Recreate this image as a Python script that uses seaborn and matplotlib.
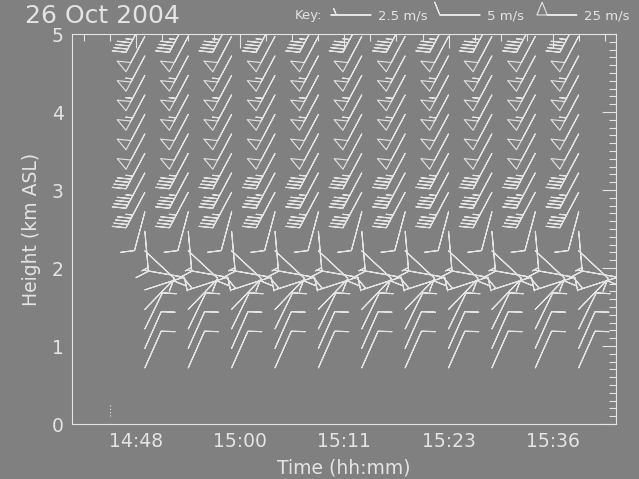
import numpy as np
import matplotlib
matplotlib.use("Agg")
import matplotlib.pyplot as plt
import seaborn as sns

# ==============================
# DATA
# ==============================
date_label = "26 Oct 2004"
times = [49, 54, 59, 64, 69, 74, 79, 84, 89, 94, 99]          # minutes after 14:00
heights = [0.72, 0.97, 1.22, 1.47, 1.72, 1.97, 2.22, 2.47, 2.72, 2.97,
           3.22, 3.47, 3.72, 3.97, 4.22, 4.47, 4.72, 4.97, 5.22]   # km ASL
speed_profile = [5, 5, 5, 5, 5, 5, 5, 7.5, 5, 22.5,
                 22.5, 22.5, 25, 25, 27.5, 27.5, 27.5, 25, 22.5]    # m/s
dir_profile = [24, 24, 26, 44, 72, 100, 133, 175, 195, 208,
               208, 208, 208, 208, 208, 208, 208, 208, 208]         # deg, wind from
tick_pos = [48, 60, 72, 84, 96]
tick_labels = ["14:48", "15:00", "15:11", "15:23", "15:36"]
key_speeds = [2.5, 5, 25]
key_labels = ["2.5 m/s", "5 m/s", "25 m/s"]
surface_time = 45
surface_top = 0.27

BG = "#808080"
FG = "#e4e4e4"
barb_style = dict(length=7.6, pivot="tip", barbcolor=FG, flagcolor="none",
                  linewidth=0.8, fill_empty=False,
                  barb_increments=dict(half=2.5, full=5, flag=25),
                  sizes=dict(spacing=0.09, height=0.32, width=0.26, emptybarb=0.0))

sns.set_theme(style="white")
plt.rcParams["font.family"] = ["DejaVu Sans"]

fig = plt.figure(figsize=(6.39, 4.79), dpi=100, facecolor=BG)
ax = fig.add_axes([72 / 639, 55 / 479, 544 / 639, 390 / 479], facecolor=BG)

T, H = np.meshgrid(times, heights)
spd = np.tile(np.array(speed_profile)[:, None], (1, len(times)))
wd = np.tile(np.array(dir_profile)[:, None], (1, len(times)))
u = -spd * np.sin(np.radians(wd))
v = -spd * np.cos(np.radians(wd))

ax.barbs(T, H, u, v, **barb_style)

ax.plot([surface_time, surface_time], [0.1, surface_top], color=FG,
        linestyle=(0, (1, 2)), linewidth=0.8)

ax.set_xlim(40.6, 103.3)
ax.set_ylim(0, 5)
ax.set_xticks(tick_pos)
ax.set_xticklabels(tick_labels)
ax.set_xticks(np.arange(42, 103, 3), minor=True)
ax.set_yticks(range(6))
ax.set_yticks(np.arange(0, 5.01, 0.1), minor=True)
ax.tick_params(which="both", direction="in", top=True, right=True,
               color=FG, labelcolor=FG, labelsize=13.5, width=0.8)
ax.tick_params(which="major", length=10, pad=6)
ax.tick_params(which="minor", length=5)
for s in ax.spines.values():
    s.set_color(FG)
    s.set_linewidth(0.8)
ax.set_xlabel("Time (hh:mm)", color=FG, fontsize=13.5, labelpad=5)
ax.set_ylabel("Height (km ASL)", color=FG, fontsize=13.5, labelpad=8)

fig.text(25 / 639, 1 - 16 / 479, date_label, color=FG, fontsize=18, va="center")

# key
kax = fig.add_axes([0, 1 - 30 / 479, 1, 30 / 479])
kax.set_xlim(0, 639)
kax.set_ylim(30, 0)
kax.axis("off")
fig.text(295 / 639, 1 - 16 / 479, "Key:", color=FG, fontsize=9.5, va="center")
key_x = [371, 480, 577]
kax.barbs(key_x, [15] * 3, key_speeds, [0] * 3, **barb_style)
for kx, kl in zip(key_x, key_labels):
    kax.text(kx + 7, 16, kl, color=FG, fontsize=9.5, va="center")

fig.savefig("out.png", dpi=100, facecolor=BG)
